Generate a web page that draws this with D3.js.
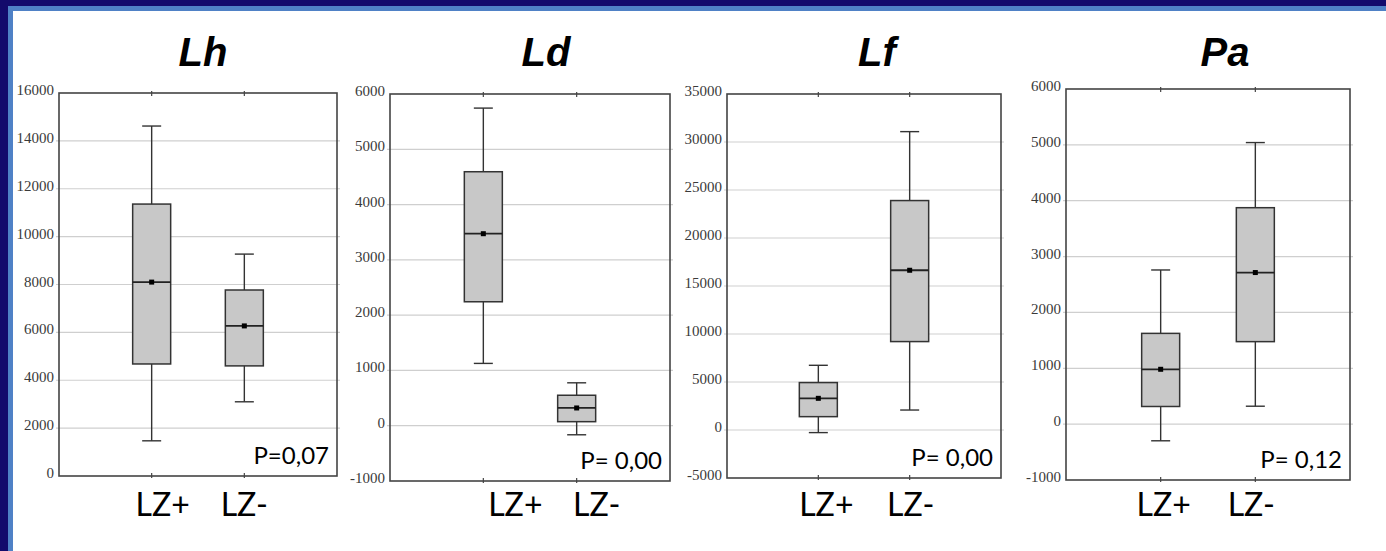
<!DOCTYPE html>
<html>
<head>
<meta charset="utf-8">
<script src="https://cdn.jsdelivr.net/npm/d3@7"></script>
<style>
  html, body { margin: 0; padding: 0; background: #fff; }
  #svg-container { width: 1386px; height: 551px; }
</style>
</head>
<body>
<div id="svg-container"></div>
<script>
// panel titles, groups and p-values
var panelNames = ["Lh", "Ld", "Lf", "Pa"];
var groups = ["LZ+", "LZ-"];
var pLabels = ["P=0,07", "P= 0,00", "P= 0,00", "P= 0,12"];

// y axis of each panel
var yDomains = [[0, 16000], [-1000, 6000], [-5000, 35000], [-1000, 6000]];
var yTickSteps = [2000, 1000, 5000, 1000];

// box stats per group: [min, q1, median, q3, max]
var lhStats = [[1470, 4680, 8100, 11360, 14620], [3100, 4600, 6270, 7770, 9270]];
var ldStats = [[1127, 2242, 3473, 4594, 5745], [-164, 73, 321, 551, 776]];
var lfStats = [[-270, 1390, 3300, 4940, 6740], [2080, 9210, 16640, 23900, 31080]];
var paStats = [[-298, 316, 982, 1625, 2760], [321, 1477, 2714, 3875, 5041]];
var allStats = [lhStats, ldStats, lfStats, paStats];

// layout: plot frame of each panel [left, top, right, bottom]
var frames = [[59, 93, 337, 476], [390, 94, 670, 481], [727, 94, 1001, 478], [1066, 89, 1350, 480]];
var titleX = [203, 546, 877, 1225];
var catLabelShift = [[11, 0], [32, 20], [8, 1], [3, -4]];

var width = 1386, height = 551;

var svg = d3.select("#svg-container")
            .append("svg")
            .attr("width", width)
            .attr("height", height);

// slide frame
svg.append("rect").attr("x", 0).attr("y", 0).attr("width", width).attr("height", height).attr("fill", "#ffffff");
svg.append("rect").attr("x", 0).attr("y", 0).attr("width", width).attr("height", 11).attr("fill", "#4f81c6");
svg.append("rect").attr("x", 0).attr("y", 0).attr("width", 13).attr("height", height).attr("fill", "#4f81c6");
svg.append("rect").attr("x", 0).attr("y", 0).attr("width", width).attr("height", 6).attr("fill", "#130a6c");
svg.append("rect").attr("x", 0).attr("y", 0).attr("width", 8).attr("height", height).attr("fill", "#130a6c");

panelNames.forEach(function(name, i) {
  var f = frames[i];
  var w = f[2] - f[0], h = f[3] - f[1];
  var g = svg.append("g").attr("transform", "translate(" + f[0] + "," + f[1] + ")");

  var scaleX = d3.scalePoint().domain(groups).range([0, w]).padding(1);
  var scaleY = d3.scaleLinear().domain(yDomains[i]).range([h, 0]);
  var ticks = d3.range(yDomains[i][0], yDomains[i][1] + 1, yTickSteps[i]);

  // gridlines
  g.selectAll(".grid").data(ticks.slice(1, -1)).enter()
    .append("line")
    .attr("x1", -3).attr("x2", w + 3)
    .attr("y1", function(d) { return scaleY(d); })
    .attr("y2", function(d) { return scaleY(d); })
    .attr("stroke", "#cfcfcf")
    .attr("stroke-width", 1.2);

  // y axis labels
  var yAxis = d3.axisLeft(scaleY)
                .tickValues(ticks)
                .tickFormat(function(d) { return String(d); })
                .tickSize(0)
                .tickPadding(5);
  var ax = g.append("g").call(yAxis);
  ax.select(".domain").remove();
  ax.selectAll("text")
    .attr("dy", "0.1em")
    .attr("fill", "#3a3a3a")
    .style("font-family", "'Liberation Serif', 'DejaVu Serif', serif")
    .style("font-size", "15px");

  // category ticks on top and bottom of frame
  groups.forEach(function(c) {
    g.append("line").attr("x1", scaleX(c)).attr("x2", scaleX(c)).attr("y1", -2).attr("y2", 3)
      .attr("stroke", "#444").attr("stroke-width", 1.2);
    g.append("line").attr("x1", scaleX(c)).attr("x2", scaleX(c)).attr("y1", h - 3).attr("y2", h + 2)
      .attr("stroke", "#444").attr("stroke-width", 1.2);
  });

  // frame
  g.append("rect")
    .attr("x", 0).attr("y", 0).attr("width", w).attr("height", h)
    .attr("fill", "none")
    .attr("stroke", "#444")
    .attr("stroke-width", 1.6);

  var boxW = 38, capW = 19;
  var stats = allStats[i];

  var boxes = g.selectAll(".box").data(stats).enter()
    .append("g")
    .attr("transform", function(d, j) { return "translate(" + scaleX(groups[j]) + ",0)"; });

  // whisker
  boxes.append("line")
    .attr("x1", 0).attr("x2", 0)
    .attr("y1", function(d) { return scaleY(d[0]); })
    .attr("y2", function(d) { return scaleY(d[4]); })
    .attr("stroke", "#333").attr("stroke-width", 1.4);
  // caps
  boxes.selectAll(".cap").data(function(d) { return [d[0], d[4]]; }).enter()
    .append("line")
    .attr("x1", -capW / 2).attr("x2", capW / 2)
    .attr("y1", function(v) { return scaleY(v); })
    .attr("y2", function(v) { return scaleY(v); })
    .attr("stroke", "#333").attr("stroke-width", 1.4);
  // box
  boxes.append("rect")
    .attr("x", -boxW / 2)
    .attr("width", boxW)
    .attr("y", function(d) { return scaleY(d[3]); })
    .attr("height", function(d) { return scaleY(d[1]) - scaleY(d[3]); })
    .attr("fill", "#c8c8c8")
    .attr("stroke", "#333").attr("stroke-width", 1.5);
  // median
  boxes.append("line")
    .attr("x1", -boxW / 2).attr("x2", boxW / 2)
    .attr("y1", function(d) { return scaleY(d[2]); })
    .attr("y2", function(d) { return scaleY(d[2]); })
    .attr("stroke", "#222").attr("stroke-width", 1.8);
  boxes.append("rect")
    .attr("x", -2.5).attr("width", 5)
    .attr("y", function(d) { return scaleY(d[2]) - 2.5; })
    .attr("height", 5)
    .attr("fill", "#000");

  // p-value
  g.append("text")
    .attr("x", w - 8).attr("y", h - 12)
    .attr("text-anchor", "end")
    .attr("fill", "#000")
    .style("font-family", "Lato, 'Open Sans', sans-serif")
    .style("font-size", "24px")
    .text(pLabels[i]);

  // category labels
  groups.forEach(function(c, j) {
    g.append("text")
      .attr("x", scaleX(c) + catLabelShift[i][j])
      .attr("y", 516 - f[1])
      .attr("text-anchor", "middle")
      .attr("fill", "#000")
      .style("font-family", "Lato, 'Open Sans', sans-serif")
      .style("font-size", "32px")
      .text(c);
  });

  // title
  svg.append("text")
    .attr("x", titleX[i]).attr("y", 66)
    .attr("text-anchor", "middle")
    .attr("fill", "#000")
    .style("font-family", "'Liberation Sans', Arial, sans-serif")
    .style("font-weight", "bold")
    .style("font-style", "italic")
    .style("font-size", "40px")
    .text(name);
});
</script>
</body>
</html>
